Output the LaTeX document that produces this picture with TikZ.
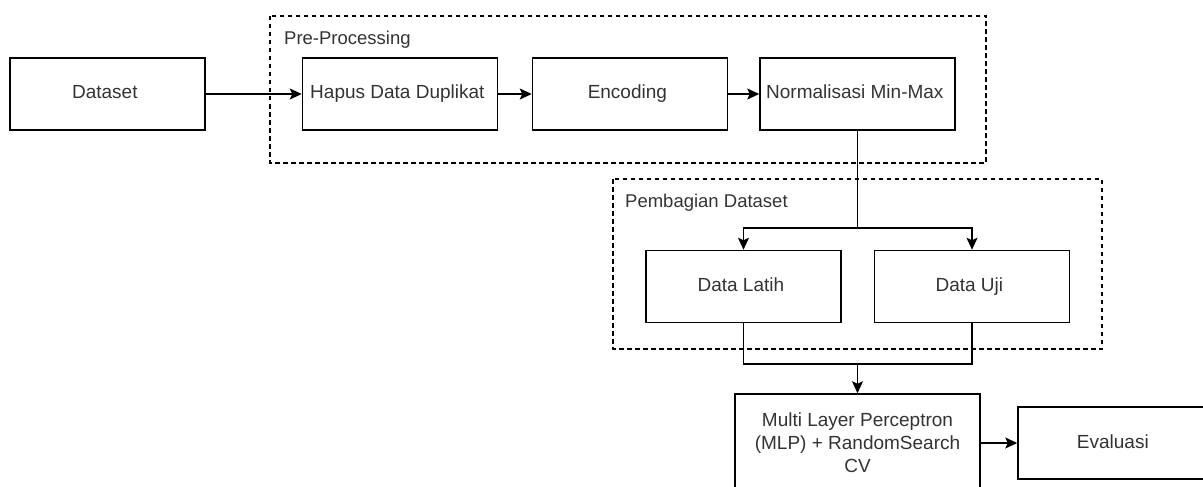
\documentclass[tikz,border=0pt]{standalone}
\usepackage{fontspec}
\setmainfont{Liberation Sans}
\usepackage{tikz}
\usetikzlibrary{arrows.meta,positioning,calc}
\pgfdeclarelayer{bg}
\pgfsetlayers{bg,main}

\begin{document}
\begin{tikzpicture}[x=1pt,y=-1pt,
    box/.style={draw, line width=1.5pt, minimum width=195pt, minimum height=72pt,
      inner sep=2pt, text=black!80, align=center, text height=14pt, text depth=4pt,
      font=\fontsize{19}{23}\selectfont},
    group/.style={draw, line width=1.3pt, dash pattern=on 4.5pt off 3.5pt},
    grouplabel/.style={anchor=west, inner sep=0pt, text=black!80,
      font=\fontsize{18.5}{22}\selectfont},
    link/.style={line width=1.5pt},
    arrow/.style={link, -{Stealth[length=12pt, width=11pt, inset=2.5pt]}}]

    \clip (0,0) rectangle (1203,487);

    \node [box] (dataset) at (107.5,94) { Dataset };
    \node [box] (hapus) at (400,94) { Hapus Data Duplikat };
    \node [box] (encoding) at (630,94) { Encoding };
    \node [box] (normal) at (857.5,94) { Normalisasi Min-Max };
    \node [box] (latih) at (743.5,286.5) { Data Latih };
    \node [box] (uji) at (972,286.5) { Data Uji };
    \node [box, text height=, text depth=, minimum width=245pt, minimum height=98pt]
      (mlp) at (857.5,443) { Multi Layer Perceptron\\(MLP) + RandomSearch\\CV };
    \node [box] (eval) at (1115.5,443) { Evaluasi };

    \coordinate (split) at (857.5,228);
    \coordinate (merge) at (857.5,364);

    \node [grouplabel] (prelabel) at (284,40) { Pre-Processing };
    \node [grouplabel] (splitlabel) at (625,203) { Pembagian Dataset };

    \begin{pgfonlayer}{bg}    % dashed group frames
        \draw [group] (270,16) rectangle (986,163);
        \draw [group] (613,179) rectangle (1102,349);
    \end{pgfonlayer}

    \draw [arrow] (dataset) -- (hapus);
    \draw [arrow] (hapus) -- (encoding);
    \draw [arrow] (encoding) -- (normal);
    \draw [link] (normal) -- (split);
    \draw [arrow] (split) -| (latih);
    \draw [arrow] (split) -| (uji);
    \draw [link] (latih) |- (merge);
    \draw [link] (uji) |- (merge);
    \draw [arrow] (merge) -- (mlp);
    \draw [arrow] (mlp) -- (eval);
  \end{tikzpicture}
\end{document}
